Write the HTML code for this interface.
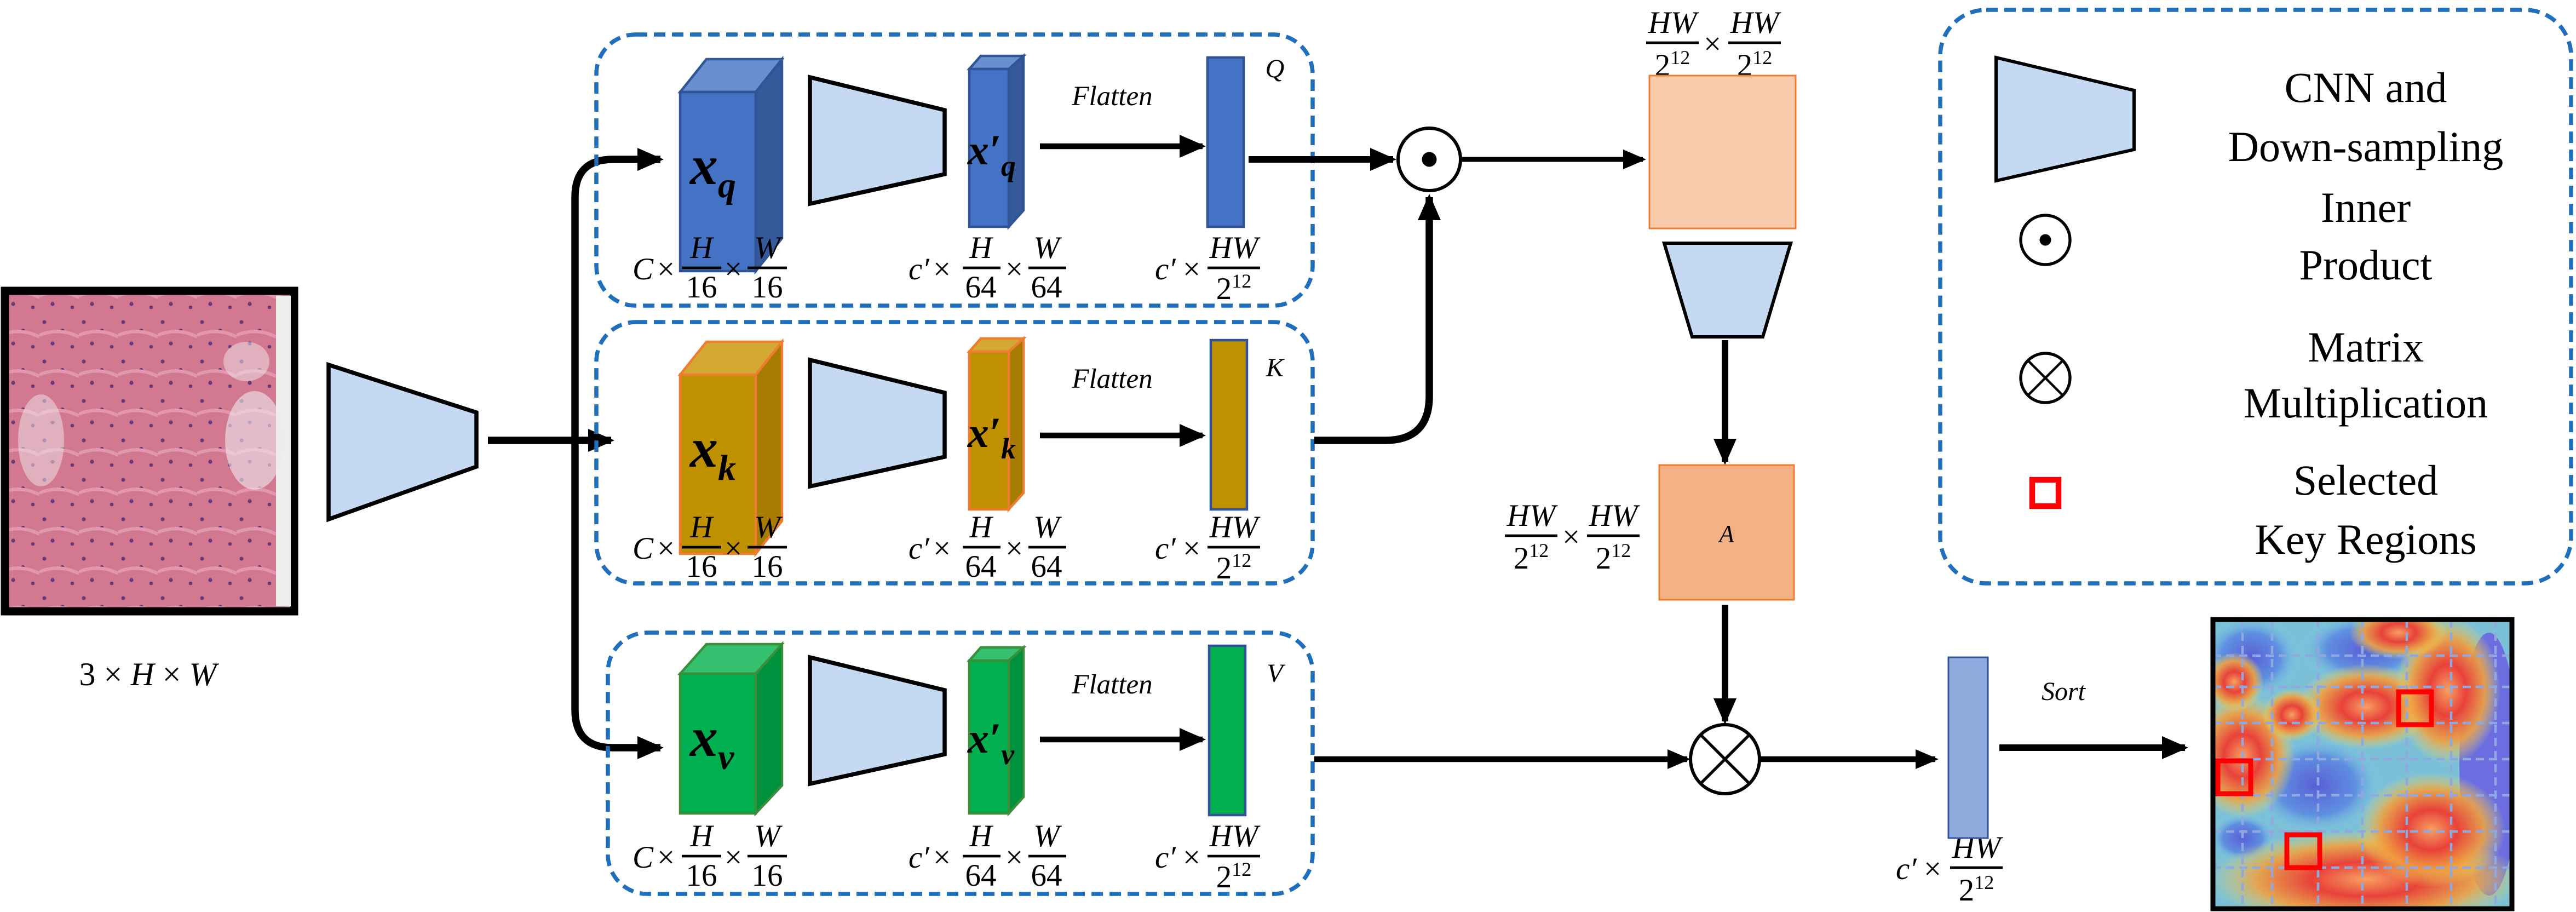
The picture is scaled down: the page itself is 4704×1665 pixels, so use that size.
<!DOCTYPE html>
<html><head><meta charset="utf-8"><style>
html,body{margin:0;padding:0;background:#fff;}
svg{display:block;}
text{font-family:"Liberation Serif",serif;}
.it{font-style:italic;}
</style></head><body>
<svg width="4704" height="1665" viewBox="0 0 1568 555" xmlns="http://www.w3.org/2000/svg">
<defs>
<marker id="ah" markerWidth="16" markerHeight="16" refX="14" refY="8" orient="auto" markerUnits="userSpaceOnUse">
<path d="M0,1 L16,8 L0,15 z" fill="#000"/></marker>
<marker id="ah2" markerWidth="14" markerHeight="14" refX="12" refY="7" orient="auto" markerUnits="userSpaceOnUse">
<path d="M0,1 L14,7 L0,13 z" fill="#000"/></marker>
<pattern id="tis" width="24" height="24" patternUnits="userSpaceOnUse">
<rect width="24" height="24" fill="#d27891"/>
<circle cx="3" cy="4" r="1.2" fill="#6a3a78"/><circle cx="14" cy="9" r="1.1" fill="#6a3a78"/>
<circle cx="8" cy="17" r="1.2" fill="#6a3a78"/><circle cx="20" cy="19" r="1.1" fill="#6a3a78"/>
<path d="M0 12 Q12 7 24 13" stroke="#e397ad" stroke-width="2" fill="none"/>
</pattern>
<radialGradient id="hr"><stop offset="0" stop-color="#f7a060"/><stop offset="0.35" stop-color="#e8413a"/><stop offset="0.7" stop-color="#f0a040" stop-opacity="0.9"/><stop offset="1" stop-color="#e8e060" stop-opacity="0"/></radialGradient>
<radialGradient id="hb"><stop offset="0" stop-color="#5a5fd6"/><stop offset="0.6" stop-color="#5f8fe0"/><stop offset="1" stop-color="#7fd0e0" stop-opacity="0"/></radialGradient>
<clipPath id="hc"><rect x="1347" y="377" width="182" height="176"/></clipPath>
</defs>

<!-- input image -->
<rect x="3" y="177" width="176" height="195" fill="url(#tis)" stroke="#000" stroke-width="5"/>
<rect x="168" y="180" width="9" height="189" fill="#eee"/>
<ellipse cx="155" cy="268" rx="18" ry="30" fill="#f0e8ee" opacity="0.6"/>
<ellipse cx="25" cy="268" rx="14" ry="28" fill="#f0e8ee" opacity="0.5"/>
<ellipse cx="150" cy="220" rx="14" ry="12" fill="#f0e8ee" opacity="0.5"/>
<text x="90" y="417" font-size="20" text-anchor="middle">3 × <tspan class="it">H</tspan> × <tspan class="it">W</tspan></text>

<!-- first trapezoid -->
<polygon points="200,222 290,251 290,284 200,316" fill="#c5d9f2" stroke="#000" stroke-width="2.5"/>
<line x1="297" y1="268" x2="372" y2="268" stroke="#000" stroke-width="4.5" marker-end="url(#ah)"/>
<path d="M350,268 L350,120 Q350,97 373,97 L402,97" stroke="#000" stroke-width="4.5" fill="none" marker-end="url(#ah)"/>
<path d="M350,268 L350,432 Q350,455 373,455 L402,455" stroke="#000" stroke-width="4.5" fill="none" marker-end="url(#ah)"/>

<!-- Q branch -->
<g>
<rect x="363" y="21" width="436" height="165" rx="24" fill="none" stroke="#1f6fbd" stroke-width="2.5" stroke-dasharray="7,4"/>
<polygon points="414,56 430,36 476,36 460,56" fill="#6a8fd0" stroke="#2f5597" stroke-width="1.5"/>
<polygon points="460,56 476,36 476,145 460,165" fill="#36599a" stroke="#2f5597" stroke-width="1.5"/>
<rect x="414" y="56" width="46" height="109" fill="#4472c4" stroke="#2f5597" stroke-width="1.5"/>
<text x="420" y="112" font-size="34" class="it" font-weight="bold">x<tspan font-size="22" dy="8">q</tspan></text>
<polygon points="493,47 575,67 575,106 493,124" fill="#c5d9f2" stroke="#000" stroke-width="2.5"/>
<polygon points="590,42 597,34 623,34 614,42" fill="#6a8fd0" stroke="#2f5597" stroke-width="1.5"/>
<polygon points="614,42 623,34 623,128 614,138" fill="#36599a" stroke="#2f5597" stroke-width="1.5"/>
<rect x="590" y="42" width="24" height="96" fill="#4472c4" stroke="#2f5597" stroke-width="1.5"/>
<text x="589" y="100" font-size="26" class="it" font-weight="bold">x′<tspan font-size="18" dy="7">q</tspan></text>
<text x="677" y="64" font-size="17" class="it" text-anchor="middle">Flatten</text>
<line x1="633" y1="89" x2="732" y2="89" stroke="#000" stroke-width="3.5" marker-end="url(#ah)"/>
<rect x="735" y="35" width="22" height="103" fill="#4472c4" stroke="#2f5597" stroke-width="1.5"/>
<text x="776" y="47" font-size="16" class="it" text-anchor="middle">Q</text>
</g>
<!-- K branch -->
<g>
<rect x="363" y="196" width="436" height="159" rx="24" fill="none" stroke="#1f6fbd" stroke-width="2.5" stroke-dasharray="7,4"/>
<polygon points="414,228 430,208 476,208 460,228" fill="#d3a933" stroke="#ed7d31" stroke-width="1.5"/>
<polygon points="460,228 476,208 476,317 460,337" fill="#a87c00" stroke="#ed7d31" stroke-width="1.5"/>
<rect x="414" y="228" width="46" height="109" fill="#bf9000" stroke="#ed7d31" stroke-width="1.5"/>
<text x="420" y="284" font-size="34" class="it" font-weight="bold">x<tspan font-size="22" dy="8">k</tspan></text>
<polygon points="493,219 575,239 575,278 493,296" fill="#c5d9f2" stroke="#000" stroke-width="2.5"/>
<polygon points="590,214 597,206 623,206 614,214" fill="#d3a933" stroke="#ed7d31" stroke-width="1.5"/>
<polygon points="614,214 623,206 623,300 614,310" fill="#a87c00" stroke="#ed7d31" stroke-width="1.5"/>
<rect x="590" y="214" width="24" height="96" fill="#bf9000" stroke="#ed7d31" stroke-width="1.5"/>
<text x="589" y="272" font-size="26" class="it" font-weight="bold">x′<tspan font-size="18" dy="7">k</tspan></text>
<text x="677" y="236" font-size="17" class="it" text-anchor="middle">Flatten</text>
<line x1="633" y1="265" x2="732" y2="265" stroke="#000" stroke-width="3.5" marker-end="url(#ah)"/>
<rect x="737" y="207" width="22" height="103" fill="#bf9000" stroke="#2f5597" stroke-width="1.5"/>
<text x="776" y="229" font-size="16" class="it" text-anchor="middle">K</text>
</g>
<!-- V branch -->
<g>
<rect x="370" y="385" width="429" height="159" rx="24" fill="none" stroke="#1f6fbd" stroke-width="2.5" stroke-dasharray="7,4"/>
<polygon points="414,410 430,392 476,392 460,410" fill="#34c06e" stroke="#3a8f3a" stroke-width="1.5"/>
<polygon points="460,410 476,392 476,478 460,495" fill="#00913f" stroke="#3a8f3a" stroke-width="1.5"/>
<rect x="414" y="410" width="46" height="85" fill="#00b050" stroke="#3a8f3a" stroke-width="1.5"/>
<text x="420" y="460" font-size="34" class="it" font-weight="bold">x<tspan font-size="22" dy="8">v</tspan></text>
<polygon points="493,400 575,420 575,459 493,477" fill="#c5d9f2" stroke="#000" stroke-width="2.5"/>
<polygon points="590,402 597,394 623,394 614,402" fill="#34c06e" stroke="#3a8f3a" stroke-width="1.5"/>
<polygon points="614,402 623,394 623,485 614,495" fill="#00913f" stroke="#3a8f3a" stroke-width="1.5"/>
<rect x="590" y="402" width="24" height="93" fill="#00b050" stroke="#3a8f3a" stroke-width="1.5"/>
<text x="589" y="458" font-size="26" class="it" font-weight="bold">x′<tspan font-size="18" dy="7">v</tspan></text>
<text x="677" y="422" font-size="17" class="it" text-anchor="middle">Flatten</text>
<line x1="633" y1="450" x2="732" y2="450" stroke="#000" stroke-width="3.5" marker-end="url(#ah)"/>
<rect x="736" y="393" width="22" height="103" fill="#00b050" stroke="#2f5597" stroke-width="1.5"/>
<text x="776" y="415" font-size="16" class="it" text-anchor="middle">V</text>
</g>

<!-- dimension labels -->
<g font-size="19">
<g id="lbl">
<text x="385" y="170" class="it">C</text><text x="400" y="170">×</text>
<text x="427" y="157" class="it" text-anchor="middle">H</text><line x1="415" y1="163" x2="439" y2="163" stroke="#000" stroke-width="1.6"/><text x="427" y="181" text-anchor="middle">16</text>
<text x="441" y="170">×</text>
<text x="467" y="157" class="it" text-anchor="middle">W</text><line x1="455" y1="163" x2="479" y2="163" stroke="#000" stroke-width="1.6"/><text x="467" y="181" text-anchor="middle">16</text>
<text x="553" y="170" class="it">c′</text><text x="568" y="170">×</text>
<text x="597" y="157" class="it" text-anchor="middle">H</text><line x1="586" y1="163" x2="609" y2="163" stroke="#000" stroke-width="1.6"/><text x="597" y="181" text-anchor="middle">64</text>
<text x="612" y="170">×</text>
<text x="637" y="157" class="it" text-anchor="middle">W</text><line x1="626" y1="163" x2="649" y2="163" stroke="#000" stroke-width="1.6"/><text x="637" y="181" text-anchor="middle">64</text>
<text x="703" y="170" class="it">c′</text><text x="720" y="170">×</text>
<text x="751" y="157" class="it" text-anchor="middle">HW</text><line x1="735" y1="163" x2="767" y2="163" stroke="#000" stroke-width="1.6"/><text x="751" y="182" text-anchor="middle">2<tspan font-size="12" dy="-7">12</tspan></text>
</g>
<use href="#lbl" transform="translate(0,170)"/>
<use href="#lbl" transform="translate(0,358)"/>
<text x="1018" y="20" class="it" text-anchor="middle">HW</text><line x1="1002" y1="26" x2="1034" y2="26" stroke="#000" stroke-width="1.6"/><text x="1018" y="46" text-anchor="middle">2<tspan font-size="12" dy="-7">12</tspan></text>
<text x="1037" y="33">×</text>
<text x="1068" y="20" class="it" text-anchor="middle">HW</text><line x1="1052" y1="26" x2="1084" y2="26" stroke="#000" stroke-width="1.6"/><text x="1068" y="46" text-anchor="middle">2<tspan font-size="12" dy="-7">12</tspan></text>
<text x="932" y="320" class="it" text-anchor="middle">HW</text><line x1="916" y1="326" x2="948" y2="326" stroke="#000" stroke-width="1.6"/><text x="932" y="346" text-anchor="middle">2<tspan font-size="12" dy="-7">12</tspan></text>
<text x="951" y="333">×</text>
<text x="982" y="320" class="it" text-anchor="middle">HW</text><line x1="966" y1="326" x2="998" y2="326" stroke="#000" stroke-width="1.6"/><text x="982" y="346" text-anchor="middle">2<tspan font-size="12" dy="-7">12</tspan></text>
<text x="1154" y="535" class="it">c′</text><text x="1171" y="535">×</text>
<text x="1203" y="522" class="it" text-anchor="middle">HW</text><line x1="1187" y1="528" x2="1219" y2="528" stroke="#000" stroke-width="1.6"/><text x="1203" y="548" text-anchor="middle">2<tspan font-size="12" dy="-7">12</tspan></text>
</g>

<!-- inner product -->
<line x1="760" y1="97" x2="848" y2="97" stroke="#000" stroke-width="4" marker-end="url(#ah)"/>
<circle cx="870" cy="97" r="19" fill="#fff" stroke="#000" stroke-width="2"/><circle cx="870" cy="97" r="4.5" fill="#000"/>
<path d="M800,268 L843,268 Q870,268 870,241 L870,120" stroke="#000" stroke-width="4.5" fill="none" marker-end="url(#ah)"/>
<line x1="890" y1="97" x2="1000" y2="97" stroke="#000" stroke-width="3" marker-end="url(#ah2)"/>
<rect x="1004" y="46" width="89" height="93" fill="#f8cbad" stroke="#ed7d31" stroke-width="1"/>
<polygon points="1013,148 1090,148 1073,205 1030,205" fill="#c5d9f2" stroke="#000" stroke-width="2"/>
<line x1="1050" y1="207" x2="1050" y2="281" stroke="#000" stroke-width="4" marker-end="url(#ah)"/>
<rect x="1010" y="283" width="82" height="82" fill="#f4b183" stroke="#ed7d31" stroke-width="1"/>
<text x="1051" y="330" font-size="15" class="it" text-anchor="middle">A</text>
<line x1="1050" y1="368" x2="1050" y2="439" stroke="#000" stroke-width="4" marker-end="url(#ah)"/>
<circle cx="1050" cy="462" r="21" fill="#fff" stroke="#000" stroke-width="2"/>
<line x1="1035" y1="447" x2="1065" y2="477" stroke="#000" stroke-width="1.8"/><line x1="1065" y1="447" x2="1035" y2="477" stroke="#000" stroke-width="1.8"/>
<line x1="800" y1="462" x2="1027" y2="462" stroke="#000" stroke-width="3.5" marker-end="url(#ah2)"/>
<line x1="1071" y1="462" x2="1178" y2="462" stroke="#000" stroke-width="3.5" marker-end="url(#ah2)"/>
<rect x="1186" y="400" width="24" height="110" fill="#8faadc" stroke="#2f5597" stroke-width="1"/>
<text x="1256" y="426" font-size="16" class="it" text-anchor="middle">Sort</text>
<line x1="1217" y1="455" x2="1330" y2="455" stroke="#000" stroke-width="4" marker-end="url(#ah)"/>

<!-- heatmap -->
<g clip-path="url(#hc)">
<rect x="1347" y="377" width="182" height="176" fill="#7cc0d8"/>
<ellipse cx="1370" cy="400" rx="30" ry="25" fill="url(#hb)"/>
<ellipse cx="1440" cy="395" rx="40" ry="22" fill="url(#hb)"/>
<ellipse cx="1410" cy="478" rx="40" ry="30" fill="url(#hb)"/>
<ellipse cx="1365" cy="510" rx="20" ry="15" fill="url(#hb)"/>
<ellipse cx="1515" cy="465" rx="18" ry="80" fill="#6c6ee0"/>
<ellipse cx="1440" cy="430" rx="42" ry="26" fill="url(#hr)"/>
<ellipse cx="1365" cy="460" rx="32" ry="38" fill="url(#hr)"/>
<ellipse cx="1440" cy="535" rx="95" ry="30" fill="url(#hr)"/>
<ellipse cx="1490" cy="420" rx="32" ry="45" fill="url(#hr)"/>
<ellipse cx="1480" cy="505" rx="45" ry="35" fill="url(#hr)"/>
<ellipse cx="1460" cy="385" rx="30" ry="16" fill="url(#hr)"/>
<ellipse cx="1360" cy="415" rx="18" ry="18" fill="url(#hr)"/>
<ellipse cx="1395" cy="435" rx="18" ry="16" fill="url(#hr)"/>
<g stroke="#8fa8e0" stroke-width="1.5" stroke-dasharray="5,3">
<line x1="1365" y1="377" x2="1365" y2="553"/><line x1="1383" y1="377" x2="1383" y2="553"/><line x1="1411" y1="377" x2="1411" y2="553"/><line x1="1438" y1="377" x2="1438" y2="553"/><line x1="1465" y1="377" x2="1465" y2="553"/><line x1="1492" y1="377" x2="1492" y2="553"/><line x1="1519" y1="377" x2="1519" y2="553"/>
<line x1="1347" y1="399" x2="1529" y2="399"/><line x1="1347" y1="418" x2="1529" y2="418"/><line x1="1347" y1="440" x2="1529" y2="440"/><line x1="1347" y1="462" x2="1529" y2="462"/><line x1="1347" y1="484" x2="1529" y2="484"/><line x1="1347" y1="506" x2="1529" y2="506"/><line x1="1347" y1="528" x2="1529" y2="528"/>
</g>
</g>
<rect x="1347" y="377" width="182" height="176" fill="none" stroke="#000" stroke-width="3"/>
<g fill="none" stroke="#f00" stroke-width="3">
<rect x="1460" y="421" width="20" height="20"/><rect x="1350" y="463" width="20" height="20"/><rect x="1392" y="508" width="20" height="20"/>
</g>

<!-- legend -->
<rect x="1181" y="6" width="384" height="349" rx="28" fill="none" stroke="#1f6fbd" stroke-width="2.5" stroke-dasharray="7,4"/>
<polygon points="1215,35 1299,55 1299,91 1215,110" fill="#c5d9f2" stroke="#000" stroke-width="2"/>
<g font-size="26" text-anchor="middle">
<text x="1440" y="62">CNN and</text><text x="1440" y="98">Down-sampling</text>
<text x="1440" y="135">Inner</text><text x="1440" y="170">Product</text>
<text x="1440" y="220">Matrix</text><text x="1440" y="254">Multiplication</text>
<text x="1440" y="301">Selected</text><text x="1440" y="337">Key Regions</text>
</g>
<circle cx="1245" cy="146" r="15" fill="#fff" stroke="#000" stroke-width="1.8"/><circle cx="1245" cy="146" r="3.5" fill="#000"/>
<circle cx="1245" cy="230" r="15" fill="#fff" stroke="#000" stroke-width="1.8"/>
<line x1="1234.4" y1="219.4" x2="1255.6" y2="240.6" stroke="#000" stroke-width="1.5"/><line x1="1255.6" y1="219.4" x2="1234.4" y2="240.6" stroke="#000" stroke-width="1.5"/>
<rect x="1237" y="292" width="16" height="16" fill="none" stroke="#f00" stroke-width="3.5"/>
</svg>
</body></html>
